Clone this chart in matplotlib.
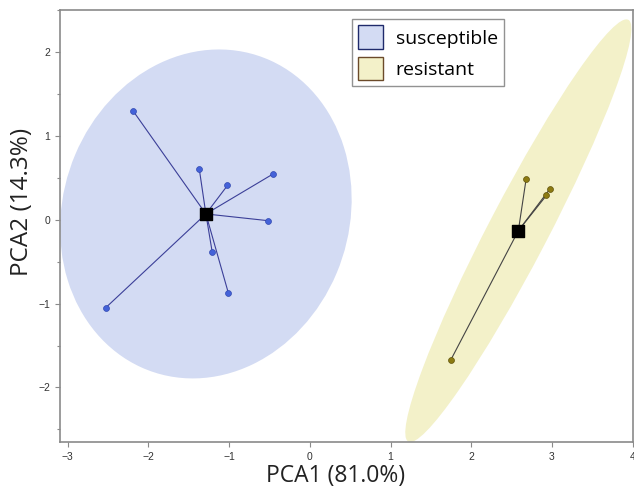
import numpy as np
import matplotlib
matplotlib.use("Agg")
import matplotlib.pyplot as plt
from matplotlib.patches import Ellipse, Patch
from matplotlib.ticker import MultipleLocator

# PCA scores
sus_pc1 = [-2.19, -1.37, -1.02, -0.45, -0.52, -1.21, -1.01, -2.53]
sus_pc2 = [1.30, 0.61, 0.41, 0.55, -0.01, -0.38, -0.87, -1.05]
res_pc1 = [2.68, 2.975, 2.93, 1.747]
res_pc2 = [0.49, 0.37, 0.29, -1.67]

groups = ["susceptible", "resistant"]
fill_colors = ["#d3dbf3", "#f3f1c9"]
edge_colors = ["#1f2a6b", "#6b4a2a"]
point_colors = ["#4462d9", "#8c7b12"]
point_edges = ["#3048b0", "#5f520a"]
line_colors = ["#3b3f98", "#444444"]

CHI2_95 = 5.991  # 95% region, 2 dof


def conf_ellipse(x, y, **kw):
    x = np.asarray(x)
    y = np.asarray(y)
    cov = np.cov(x, y)
    vals, vecs = np.linalg.eigh(cov)
    order = vals.argsort()[::-1]
    vals, vecs = vals[order], vecs[:, order]
    angle = np.degrees(np.arctan2(vecs[1, 0], vecs[0, 0]))
    w, h = 2 * np.sqrt(CHI2_95 * vals)
    return Ellipse((x.mean(), y.mean()), w, h, angle=angle, **kw)


fig = plt.figure(figsize=(6.34, 4.9), dpi=100)
ax = fig.add_axes([0.0946, 0.098, 0.9034, 0.882])

data = [(sus_pc1, sus_pc2), (res_pc1, res_pc2)]
for i, (px, py) in enumerate(data):
    ax.add_patch(conf_ellipse(px, py, facecolor=fill_colors[i],
                              edgecolor="none", zorder=1))
    cx, cy = np.mean(px), np.mean(py)
    for xx, yy in zip(px, py):
        ax.plot([cx, xx], [cy, yy], color=line_colors[i], lw=0.8, zorder=2)
    ax.scatter(px, py, s=18, color=point_colors[i],
               edgecolors=point_edges[i], linewidths=0.5, zorder=3)
    ax.scatter([cx], [cy], marker="s", s=80, color="black", zorder=4)

ax.set_xlim(-3.095, 4.0)
ax.set_ylim(-2.65, 2.505)
ax.xaxis.set_major_locator(MultipleLocator(1))
ax.yaxis.set_major_locator(MultipleLocator(1))
ax.yaxis.set_minor_locator(MultipleLocator(0.5))

for sp in ax.spines.values():
    sp.set_color("#8a8a8a")
    sp.set_linewidth(1.2)
ax.tick_params(which="both", direction="out", color="#8a8a8a",
               labelsize=7.5, labelcolor="#333333", width=0.8)
ax.tick_params(which="major", length=3.5)
ax.tick_params(which="minor", length=2)
for lab in ax.get_xticklabels() + ax.get_yticklabels():
    lab.set_family("Liberation Sans")

ax.set_xlabel("PCA1 (81.0%)", fontsize=16.5, family="Open Sans",
              color="#222222")
ax.set_ylabel("PCA2 (14.3%)", fontsize=17.5, family="Open Sans",
              color="#222222")
ax.xaxis.set_label_coords(0.482, -0.052)
ax.yaxis.set_label_coords(-0.045, 0.556)

handles = [Patch(facecolor=fill_colors[i], edgecolor=edge_colors[i],
                 linewidth=1.0, label=groups[i]) for i in range(2)]
leg = ax.legend(handles=handles, loc="upper left",
                bbox_to_anchor=(0.51, 0.978), borderaxespad=0,
                prop={"family": "Open Sans", "size": 14},
                frameon=True, fancybox=False, edgecolor="#777777",
                handlelength=1.3, handleheight=1.52, handletextpad=0.65,
                borderpad=0.3, labelspacing=0.38)
leg.get_frame().set_linewidth(1.0)

fig.savefig("out.png", dpi=100)
